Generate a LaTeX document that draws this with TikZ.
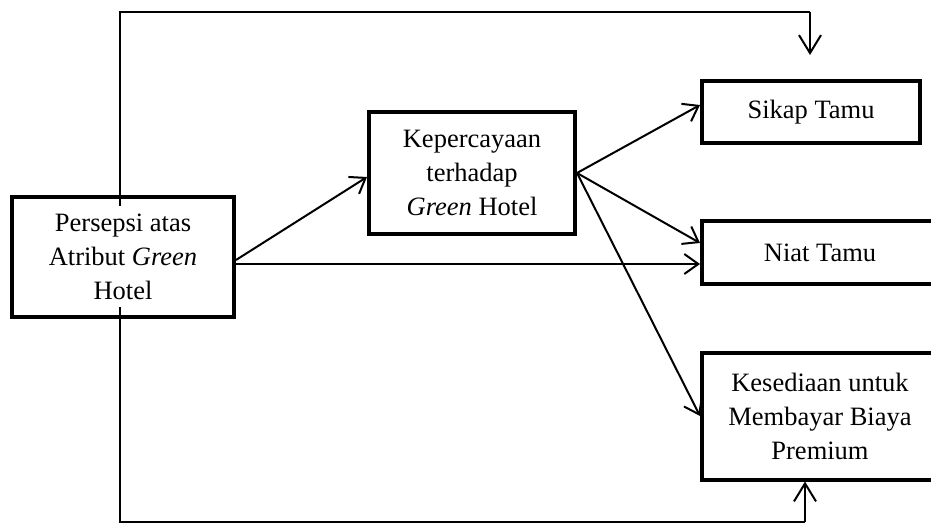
\documentclass[tikz,border=0pt]{standalone}
\usepackage{fontspec}
\setmainfont{Liberation Serif}
\usetikzlibrary{arrows.meta}
\begin{document}
\begin{tikzpicture}[x=1pt,y=-1pt,
  box/.style={draw,line width=4pt,rectangle,align=center,inner sep=0pt,
    font=\fontsize{26.5}{34}\selectfont},
  conn/.style={line width=2pt,-{Straight Barb[length=14pt,width=20pt,line width=2pt]}},
  bigconn/.style={line width=2pt,-{Straight Barb[length=18pt,width=22pt,line width=2pt]}},
  plain/.style={line width=2pt}]
\useasboundingbox (0,0) rectangle (931,526);
\clip (0,0) rectangle (931,526);
\node[box,minimum width=222pt,minimum height=120pt] (L) at (123,257) {Persepsi atas\\Atribut \textit{Green}\\Hotel};
\node[box,minimum width=206pt,minimum height=122pt] (K) at (472,173) {Kepercayaan\\terhadap\\\textit{Green} Hotel};
\node[box,minimum width=218pt,minimum height=62pt] (S) at (811,112) {Sikap Tamu};
\node[box,minimum width=236pt,minimum height=63pt] (N) at (820,253) {Niat Tamu};
\node[box,minimum width=236pt,minimum height=127pt] (W) at (820,416) {Kesediaan untuk\\Membayar Biaya\\Premium};
\coordinate (ptop) at (120,206);
\coordinate (pbot) at (120,307);
\coordinate (ttip) at (810,55);
\coordinate (tcorner) at (810,12);
\coordinate (bcorner) at (805,522);
\draw[conn] ([yshift=-3pt]L.east) -- ([yshift=-4pt]K.west);
\draw[conn] ([yshift=-7pt]L.east) -- ([yshift=-7pt]L.east -| N.west);
\draw[conn] (K.east) -- ([yshift=7pt]S.west);
\draw[conn] (K.east) -- ([yshift=10pt]N.west);
\draw[conn] (K.east) -- (W.west);
\draw[plain] (ptop) -- (ptop |- tcorner) -- (tcorner);
\draw[bigconn] (tcorner) -- (ttip);
\draw[plain] (pbot) -- (pbot |- bcorner) -- (bcorner);
\draw[bigconn] (bcorner) -- (bcorner |- W.south);
\end{tikzpicture}
\end{document}
